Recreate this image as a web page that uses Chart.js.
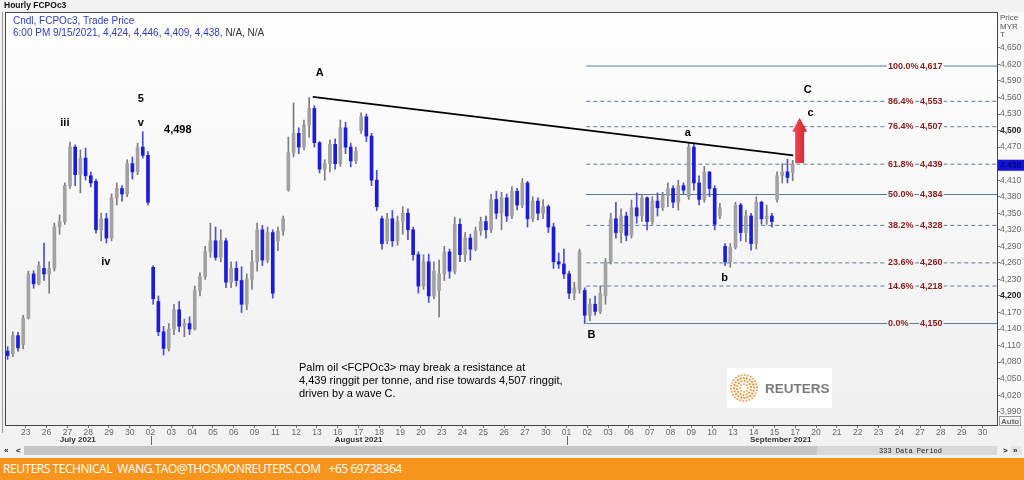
<!DOCTYPE html>
<html>
<head>
<meta charset="utf-8">
<script src="https://cdn.jsdelivr.net/npm/chart.js@4.4.1/dist/chart.umd.min.js"></script>
<style>
  body { margin: 0; width: 1024px; height: 480px; overflow: hidden; background: #f2f2f2; }
  #wrap { position: absolute; left: 0; top: 0; width: 1024px; height: 458px; }
  #banner { position: absolute; left: 0; top: 458px; width: 1024px; height: 22px; background: #f7941d;
    color: #fff; font: 400 12px "Open Sans", sans-serif; letter-spacing: -0.45px; line-height: 22px;
    white-space: pre; padding-left: 3px; box-sizing: border-box; }
</style>
</head>
<body>
<div id="wrap"><canvas id="chart" width="1024" height="458"></canvas></div>
<div id="banner">REUTERS TECHNICAL  WANG.TAO@THOSMONREUTERS.COM   +65 69738364</div>
<script>
// x axis: one tick per trading day
const dayLabels = ['23','26','27','28','29','30','02','03','04','05','06','09','11','12','13','16','17','18','19','20',
  '23','24','25','26','27','30','01','02','03','06','07','08','09','10','13','14','15','17','20','21','22','23','24',
  '27','28','29','30'];
const monthNames = ['July 2021', 'August 2021', 'September 2021'];
const monthNameDays = [2.5, 16, 36.3];
const monthStartDays = [6, 26];

const yTicks = [3990, 4020, 4050, 4080, 4110, 4140, 4170, 4200, 4230, 4260, 4290, 4320, 4350, 4380,
  4410, 4440, 4470, 4500, 4530, 4560, 4590, 4620, 4650];
const boldTicks = [4500, 4200];

// hourly candles (4 per day shown), starting one day before the first label
const firstDay = -1;
const perDay = 4;
const open = [
  4100,4095,4128,4112,4160,4240,4222,4250,4240,4250, 4325,4335,4400,4470,4420,4450,4418,4408,4320,4340,
  4305,4378,4395,4385,4440,4425,4470,4455,4252,4190, 4135,4105,4140,4175,4145,4150,4140,4210,4235,4280,
  4300,4270,4300,4225,4250,4228,4185,4230,4262,4320, 4265,4315,4300,4318,4392,4460,4495,4470,4510,4540,
  4478,4430,4440,4475,4440,4505,4470,4445,4500,4525, 4490,4410,4340,4300,4340,4300,4335,4350,4320,4275,
  4218,4262,4200,4210,4240,4280,4245,4330,4275,4305, 4285,4318,4335,4320,4375,4350,4378,4345,4390,4365,
  4405,4340,4372,4350,4362,4325,4262,4258,4240,4205, 4212,4210,4165,4185,4172,4200,4262,4340,4315,4345,
  4310,4360,4345,4378,4335,4372,4360,4382,4395,4370, 4400,4380,4470,4405,4375,4425,4395,4345,4290,4262,
  4288,4365,4315,4345,4295,4370,4340,4345,4375,4418, 4425,4424];
const high = [
  4108,4135,4134,4165,4245,4246,4262,4296,4262,4332, 4347,4405,4479,4474,4465,4468,4425,4412,4350,4350,
  4385,4405,4400,4447,4452,4477,4498,4462,4255,4200, 4145,4150,4185,4190,4158,4162,4218,4242,4290,4332,
  4325,4320,4305,4262,4262,4253,4240,4283,4332,4328, 4325,4320,4325,4345,4488,4550,4505,4519,4560,4545,
  4480,4447,4483,4485,4519,4515,4477,4470,4532,4530, 4495,4428,4345,4350,4355,4345,4362,4358,4325,4280,
  4275,4276,4262,4265,4290,4285,4343,4340,4315,4312, 4325,4343,4345,4385,4390,4388,4385,4398,4395,4413,
  4408,4380,4378,4375,4365,4332,4278,4285,4245,4225, 4285,4215,4195,4200,4218,4268,4350,4370,4358,4352,
  4374,4387,4385,4380,4380,4387,4388,4405,4400,4410, 4405,4478,4475,4418,4435,4425,4400,4368,4295,4295,
  4370,4368,4355,4350,4380,4372,4365,4350,4425,4440, 4448,4446];
const low = [
  4085,4090,4100,4104,4158,4214,4220,4228,4205,4245, 4312,4330,4395,4400,4387,4410,4398,4314,4300,4296,
  4300,4365,4372,4380,4412,4420,4450,4365,4185,4128, 4093,4100,4130,4135,4126,4130,4138,4200,4230,4270,
  4265,4262,4215,4215,4218,4170,4175,4212,4245,4255, 4260,4196,4282,4310,4390,4452,4458,4465,4488,4470,
  4423,4410,4425,4430,4435,4458,4434,4440,4495,4480, 4400,4355,4285,4295,4290,4292,4312,4302,4265,4205,
  4212,4188,4195,4162,4228,4232,4240,4262,4262,4265, 4282,4310,4305,4315,4340,4320,4335,4340,4356,4360,
  4325,4335,4338,4340,4315,4250,4250,4232,4195,4193, 4205,4150,4155,4165,4168,4185,4258,4305,4296,4300,
  4305,4332,4335,4320,4330,4345,4355,4362,4360,4356, 4385,4375,4392,4365,4370,4380,4320,4340,4255,4252,
  4285,4300,4298,4283,4285,4330,4330,4325,4370,4405, 4405,4409];
const close = [
  4092,4128,4106,4160,4240,4222,4255,4240,4250,4325, 4335,4400,4470,4420,4450,4418,4405,4320,4340,4305,
  4378,4395,4385,4440,4425,4470,4455,4370,4195,4135, 4105,4140,4175,4145,4150,4140,4210,4235,4280,4300,
  4270,4300,4225,4250,4228,4185,4230,4262,4320,4265, 4315,4205,4318,4340,4460,4495,4470,4510,4540,4478,
  4430,4440,4475,4440,4505,4470,4445,4462,4525,4490, 4410,4362,4295,4340,4300,4335,4350,4320,4275,4218,
  4262,4200,4245,4240,4280,4245,4330,4275,4305,4285, 4318,4335,4320,4375,4350,4378,4345,4390,4365,4405,
  4340,4372,4350,4362,4325,4262,4258,4240,4205,4215, 4280,4165,4185,4172,4205,4262,4340,4315,4345,4310,
  4360,4345,4378,4335,4372,4360,4382,4395,4370,4400, 4392,4470,4405,4375,4425,4395,4330,4360,4262,4288,
  4365,4315,4345,4295,4370,4340,4345,4335,4418,4425, 4415,4438];

// Fibonacci retracement from B
const fibPct = ['100.0%', '86.4%', '76.4%', '61.8%', '50.0%', '38.2%', '23.6%', '14.6%', '0.0%'];
const fibValues = [4617, 4553, 4507, 4439, 4384, 4328, 4260, 4218, 4150];
const fibSolid = [true, false, false, false, true, false, false, false, true];
const fibStartDay = 26.95;

// resistance trendline from A
const trendDays = [13.8, 36.9];
const trendPrices = [4561, 4455];

// projected move
const arrowDay = 37.21;
const arrowFrom = 4441;
const arrowTo = 4523;

const waveText = ['A', '5', 'iii', 'v', '4,498', 'iv', 'B', 'a', 'b', 'C', 'c'];
const waveDays = [14.13, 5.53, 1.88, 5.53, 7.31, 3.85, 27.2, 31.83, 33.6, 37.6, 37.74];
const wavePrices = [4604, 4557, 4514, 4514, 4501, 4262, 4129, 4496, 4233, 4573, 4532];

const note = ['Palm oil <FCPOc3> may break a resistance at',
  '4,439 ringgit per tonne, and rise towards 4,507 ringgit,',
  'driven by a wave C.'];

const lastClose = 4438;
const xMin = -1, xMax = 46.7;

const candleDay = open.map((_, i) => firstDay + (i + 0.5) / perDay);
const isUp = close.map((c, i) => c >= open[i]);

let plotFill = '#f8f8f8';

const decor = {
  id: 'decor',
  beforeDraw(chart) {
    const { ctx, chartArea: a } = chart;
    ctx.save();
    ctx.fillStyle = '#f2f2f2';
    ctx.fillRect(0, 0, chart.width, chart.height);
    ctx.fillStyle = '#f9f9f9';
    ctx.fillRect(a.right, a.top, chart.width - a.right, a.bottom - a.top);
    const g = ctx.createLinearGradient(0, a.top, 0, a.bottom);
    g.addColorStop(0, '#fefefe');
    g.addColorStop(1, '#efefef');
    plotFill = g;
    ctx.fillStyle = g;
    ctx.fillRect(a.left, a.top, a.right - a.left, a.bottom - a.top);
    ctx.restore();
  },
  afterDatasetsDraw(chart) {
    const { ctx, chartArea: a } = chart;
    const xs = chart.scales.x, ys = chart.scales.y;
    ctx.save();
    ctx.beginPath();
    ctx.rect(a.left, a.top, a.right - a.left, a.bottom - a.top);
    ctx.clip();

    // fib labels
    ctx.font = 'bold 9px "Liberation Sans", Arial, sans-serif';
    ctx.textBaseline = 'middle';
    ctx.textAlign = 'left';
    fibValues.forEach((v, i) => {
      const y = ys.getPixelForValue(v);
      const t1 = fibPct[i], t2 = v.toLocaleString('en-US');
      const w1 = ctx.measureText(t1).width, w2 = ctx.measureText(t2).width;
      ctx.fillStyle = plotFill;
      ctx.fillRect(887, y - 5, w1 + 2, 10);
      ctx.fillRect(919, y - 5, w2 + 2, 10);
      ctx.fillStyle = '#8b1a1a';
      ctx.fillText(t1, 888, y);
      ctx.fillText(t2, 920, y);
    });

    // wave labels
    ctx.fillStyle = '#000';
    ctx.font = 'bold 11px "Liberation Sans", Arial, sans-serif';
    ctx.textAlign = 'center';
    waveText.forEach((t, i) => {
      ctx.fillText(t, xs.getPixelForValue(waveDays[i]), ys.getPixelForValue(wavePrices[i]));
    });

    // red arrow
    const ax = xs.getPixelForValue(arrowDay);
    const y0 = ys.getPixelForValue(arrowFrom), y1 = ys.getPixelForValue(arrowTo);
    const ag = ctx.createLinearGradient(ax - 7, 0, ax + 7, 0);
    ag.addColorStop(0, '#f0505a');
    ag.addColorStop(1, '#d8202c');
    ctx.fillStyle = ag;
    ctx.beginPath();
    ctx.moveTo(ax - 4.5, y0);
    ctx.lineTo(ax - 4.5, y1 + 14);
    ctx.lineTo(ax - 7.5, y1 + 14);
    ctx.lineTo(ax, y1);
    ctx.lineTo(ax + 7.5, y1 + 14);
    ctx.lineTo(ax + 4.5, y1 + 14);
    ctx.lineTo(ax + 4.5, y0);
    ctx.closePath();
    ctx.fill();

    // commentary
    ctx.fillStyle = '#000';
    ctx.font = '11px "Liberation Sans", Arial, sans-serif';
    ctx.textAlign = 'left';
    note.forEach((line, i) => ctx.fillText(line, 299, 368 + i * 13));

    // Reuters logo
    ctx.fillStyle = '#ffffff';
    ctx.fillRect(727, 368, 105, 40);
    const cx = 744, cy = 388;
    [[4, 8], [7, 14], [10, 20], [13, 26]].forEach(([r, n], k) => {
      ctx.fillStyle = ['#f6b26b', '#f39a3d', '#ef8a2a', '#f4a85a'][k];
      for (let j = 0; j < n; j++) {
        const ang = (j / n) * Math.PI * 2 + k * 0.3;
        ctx.beginPath();
        ctx.arc(cx + r * Math.cos(ang), cy + r * Math.sin(ang), 1.1, 0, Math.PI * 2);
        ctx.fill();
      }
    });
    ctx.fillStyle = '#7a7a7a';
    ctx.font = 'bold 13.5px "Liberation Sans", Arial, sans-serif';
    ctx.fillText('REUTERS', 765, 389);

    // info text
    ctx.font = '10px "Liberation Sans", Arial, sans-serif';
    ctx.fillStyle = '#2b3bd0';
    ctx.fillText('Cndl, FCPOc3, Trade Price', 13, 21);
    const info = '6:00 PM 9/15/2021, 4,424, 4,446, 4,409, 4,438, ';
    ctx.fillText(info, 13, 33);
    ctx.fillStyle = '#333';
    ctx.fillText('N/A, N/A', 13 + ctx.measureText(info).width, 33);
    ctx.restore();
  },
  afterDraw(chart) {
    const { ctx, chartArea: a } = chart;
    const xs = chart.scales.x, ys = chart.scales.y;
    ctx.save();
    // frame
    ctx.strokeStyle = '#444';
    ctx.lineWidth = 1;
    ctx.strokeRect(a.left + 0.5, a.top + 0.5, a.right - a.left, a.bottom - a.top);
    ctx.beginPath();
    ctx.moveTo(2.5, a.top); ctx.lineTo(2.5, a.bottom + 8);
    ctx.strokeStyle = '#999';
    ctx.stroke();

    // title
    ctx.fillStyle = '#111';
    ctx.font = 'bold 8.5px "Liberation Sans", Arial, sans-serif';
    ctx.textBaseline = 'middle';
    ctx.fillText('Hourly FCPOc3', 4, 6);

    // y axis caption
    ctx.fillStyle = '#555';
    ctx.font = '8px "Liberation Sans", Arial, sans-serif';
    ['Price', 'MYR', 'T'].forEach((t, i) => ctx.fillText(t, 1000, 18 + i * 8.5));

    // last price marker
    const py = ys.getPixelForValue(lastClose);
    ctx.fillStyle = '#1414d2';
    ctx.fillRect(a.right + 1, py - 5, 26, 11);
    ctx.fillStyle = '#00005a';
    ctx.font = '8.5px "Liberation Sans", Arial, sans-serif';
    ctx.fillText(lastClose.toLocaleString('en-US'), a.right + 3, py + 0.5);

    // Auto button
    ctx.strokeStyle = '#999';
    ctx.strokeRect(999.5, 416.5, 21, 9);
    ctx.fillStyle = '#666';
    ctx.font = 'bold 8px "Liberation Sans", Arial, sans-serif';
    ctx.fillText('Auto', 1001, 421.5);

    // month labels and separators
    ctx.fillStyle = '#333';
    ctx.textAlign = 'center';
    monthNames.forEach((m, i) => ctx.fillText(m, xs.getPixelForValue(monthNameDays[i]), 440));
    ctx.strokeStyle = '#666';
    monthStartDays.forEach(d => {
      const x = Math.round(xs.getPixelForValue(d)) + 0.5;
      ctx.beginPath(); ctx.moveTo(x, 436); ctx.lineTo(x, 445); ctx.stroke();
    });

    // scroll bar
    ctx.fillStyle = '#c6c6c6';
    ctx.fillRect(24, 446, 793, 9);
    ctx.fillStyle = '#d9d9d9';
    ctx.fillRect(817, 446, 180, 9);
    ctx.fillStyle = '#e4e4e4';
    ctx.fillRect(1011, 446, 11, 9);
    ctx.fillStyle = '#222';
    ctx.textAlign = 'left';
    ctx.font = 'bold 8px "Liberation Sans", Arial, sans-serif';
    ctx.fillText('\u00ab', 4, 450.5);
    ctx.fillText('<', 16, 450.5);
    ctx.fillText('>', 1003, 450.5);
    ctx.fillText('\u00bb', 1013, 450.5);
    ctx.font = '7px "Liberation Mono", monospace';
    ctx.fillText('333 Data Period', 879, 451);
    ctx.restore();
  }
};

const candleColor = (up, down) => isUp.map(u => (u ? up : down));

const datasets = [
  {
    type: 'bar',
    data: candleDay.map((d, i) => ({ x: d, y: [low[i], high[i]] })),
    backgroundColor: candleColor('#7c7c7c', '#4a4ae8'),
    barThickness: 1,
    grouped: false,
    order: 2
  },
  {
    type: 'bar',
    data: candleDay.map((d, i) => ({ x: d, y: [open[i], close[i]] })),
    backgroundColor: candleColor('#a2a2a2', '#1c1cd8'),
    barThickness: 3,
    grouped: false,
    order: 1
  },
  {
    type: 'line',
    data: trendDays.map((d, i) => ({ x: d, y: trendPrices[i] })),
    borderColor: '#000',
    borderWidth: 1.6,
    pointRadius: 0,
    order: 0
  }
];
fibValues.forEach((v, i) => {
  datasets.push({
    type: 'line',
    data: [{ x: fibStartDay, y: v }, { x: xMax, y: v }],
    borderColor: '#5a7a9c',
    borderWidth: 1,
    borderDash: fibSolid[i] ? [] : [4, 3],
    pointRadius: 0,
    order: 3
  });
});

Chart.defaults.font.family = '"Liberation Sans", Arial, sans-serif';

new Chart(document.getElementById('chart'), {
  type: 'bar',
  data: { datasets },
  plugins: [decor],
  options: {
    responsive: false,
    animation: false,
    layout: { padding: { left: 5, top: 12, right: 0, bottom: 0 } },
    plugins: { legend: { display: false }, tooltip: { enabled: false } },
    scales: {
      x: {
        type: 'linear',
        min: xMin,
        max: xMax,
        offset: false,
        afterBuildTicks: s => { s.ticks = dayLabels.map((_, i) => ({ value: i })); },
        afterFit: s => { s.height = 33; },
        grid: { drawOnChartArea: false, offset: false, tickLength: 3, color: '#777' },
        border: { display: false },
        ticks: {
          autoSkip: false, maxRotation: 0, padding: 0, color: '#666',
          font: { size: 8.5 },
          callback: v => dayLabels[v] ?? ''
        }
      },
      y: {
        position: 'right',
        min: 3966,
        max: 4715,
        afterBuildTicks: s => { s.ticks = yTicks.map(v => ({ value: v })); },
        afterFit: s => { s.width = 27; },
        grid: { drawOnChartArea: false, tickLength: 3, color: '#777' },
        border: { display: false },
        ticks: {
          autoSkip: false, padding: 0, color: c => boldTicks.includes(c.tick && c.tick.value) ? '#222' : '#666',
          font: c => ({ size: 8.5, weight: boldTicks.includes(c.tick && c.tick.value) ? 'bold' : 'normal' }),
          callback: v => v.toLocaleString('en-US')
        }
      }
    }
  }
});
</script>
</body>
</html>
